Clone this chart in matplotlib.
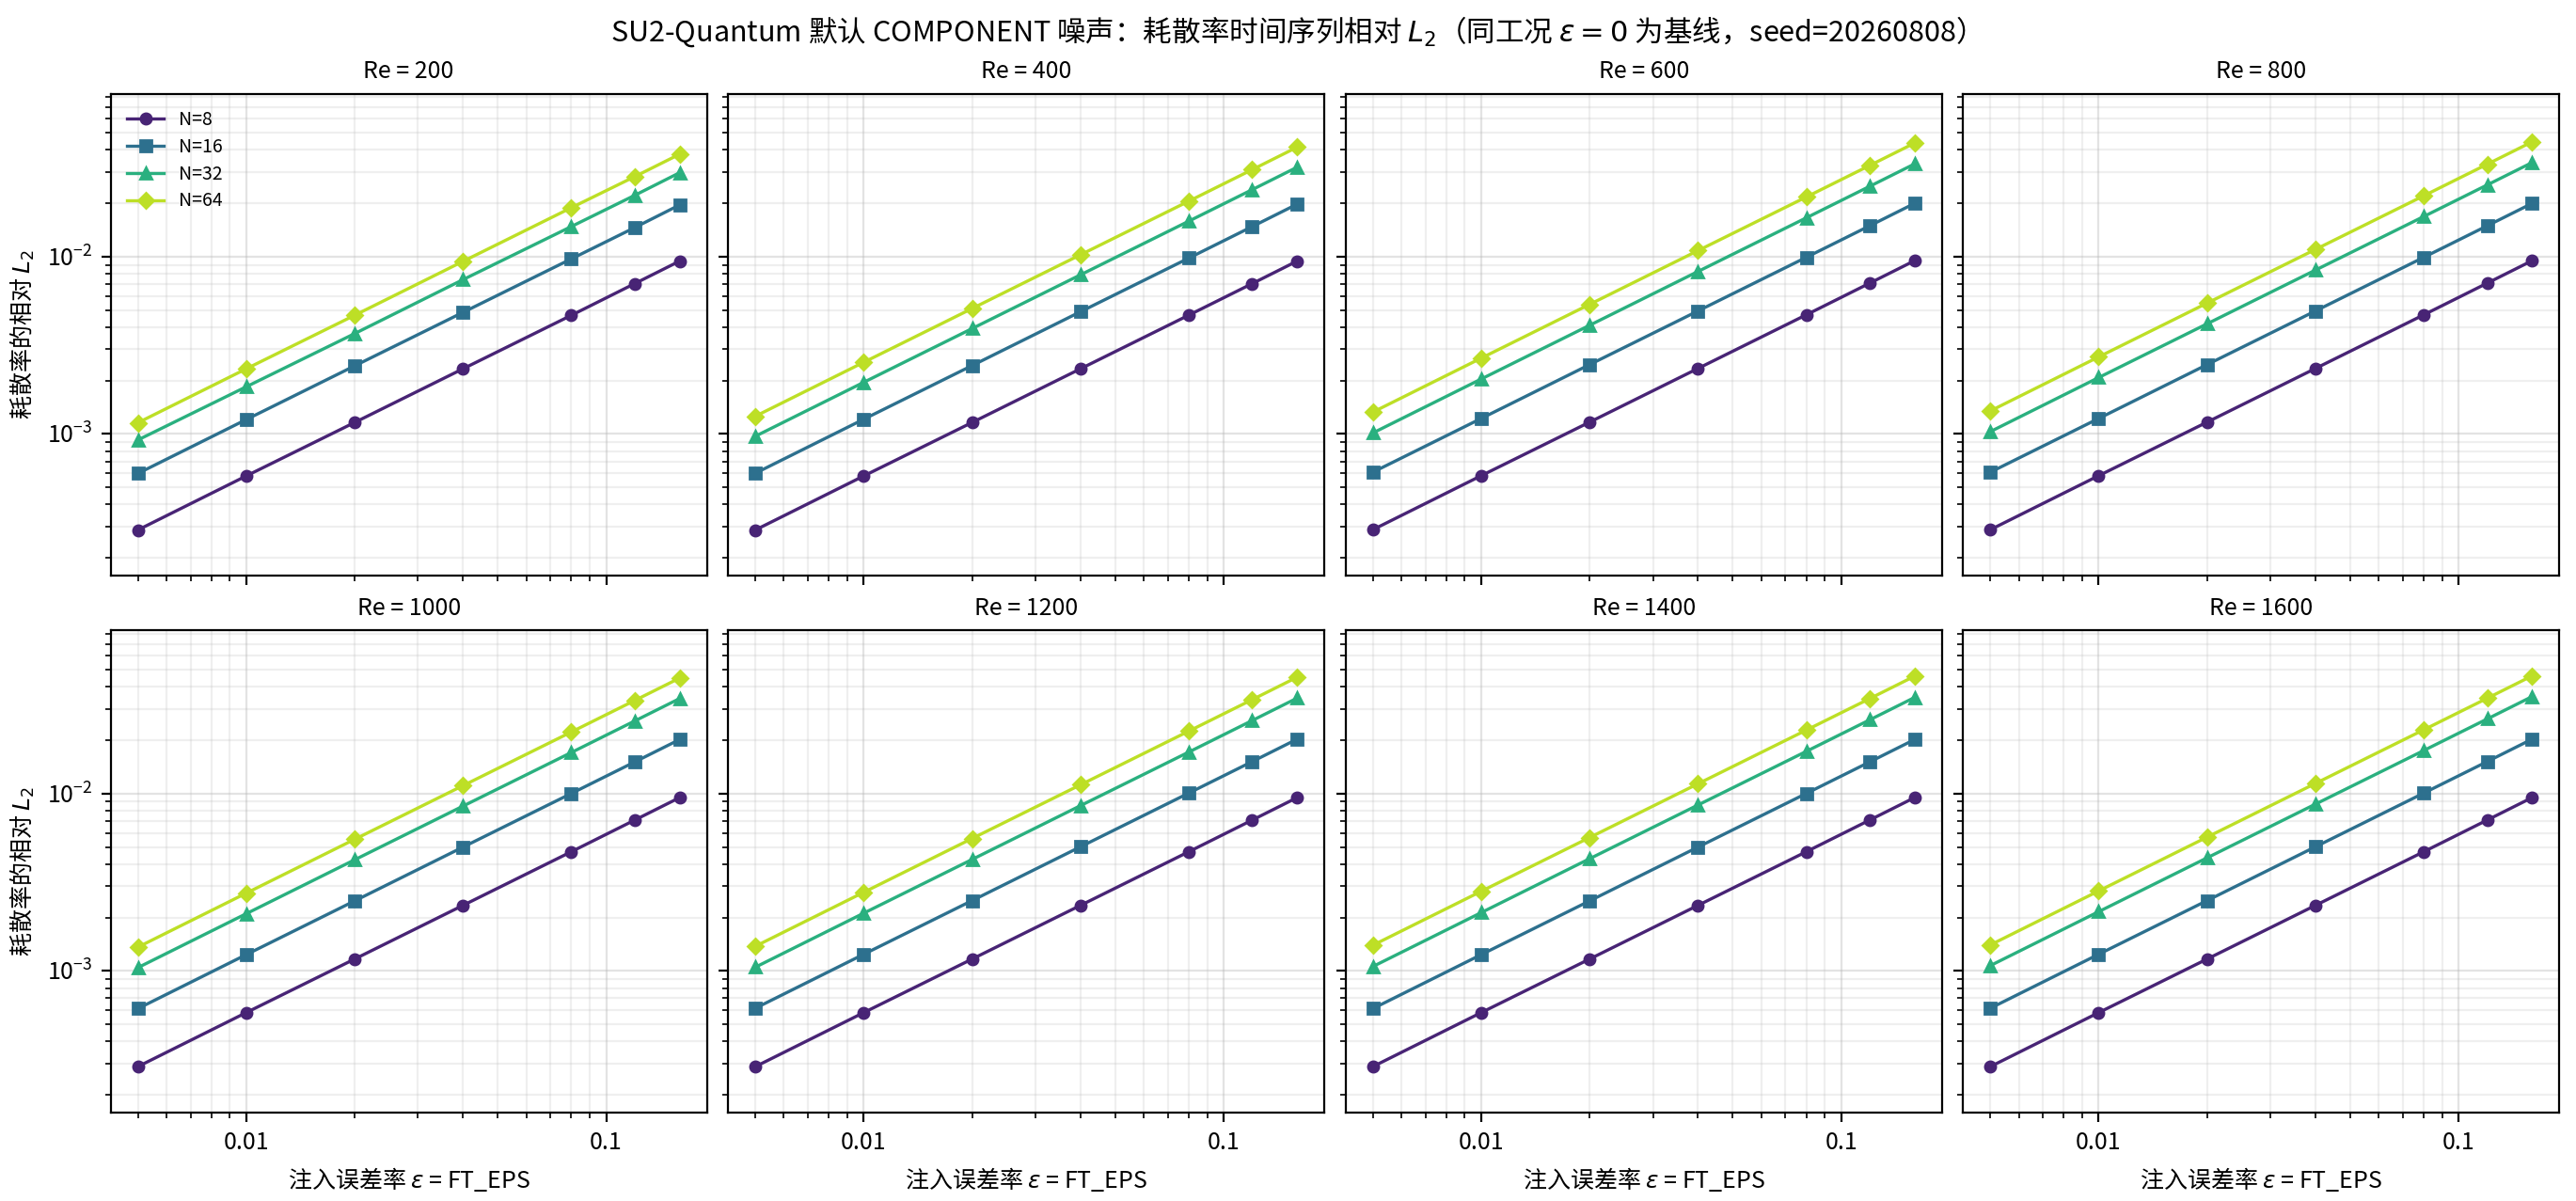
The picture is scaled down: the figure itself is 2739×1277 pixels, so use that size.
import numpy as np
import matplotlib
matplotlib.use("Agg")
from matplotlib import pyplot as plt
from matplotlib.ticker import FuncFormatter, NullFormatter

plt.rcParams['font.family'] = ['Noto Sans CJK SC', 'DejaVu Sans']
plt.rcParams['axes.unicode_minus'] = False

# injected error rates
eps = [0.005, 0.01, 0.02, 0.04, 0.08, 0.12, 0.16]
re_list = [200, 400, 600, 800, 1000, 1200, 1400, 1600]
n_list = [8, 16, 32, 64]

# relative L2 of dissipation-rate series (per Re, per N)
l2_n8 = {
    200:  [2.87e-4, 5.79e-4, 1.16e-3, 2.33e-3, 4.67e-3, 7.05e-3, 9.45e-3],
    400:  [2.87e-4, 5.79e-4, 1.16e-3, 2.33e-3, 4.68e-3, 7.05e-3, 9.45e-3],
    600:  [2.88e-4, 5.81e-4, 1.165e-3, 2.34e-3, 4.70e-3, 7.09e-3, 9.50e-3],
    800:  [2.88e-4, 5.81e-4, 1.165e-3, 2.34e-3, 4.70e-3, 7.09e-3, 9.50e-3],
    1000: [2.88e-4, 5.81e-4, 1.165e-3, 2.34e-3, 4.70e-3, 7.09e-3, 9.50e-3],
    1200: [2.88e-4, 5.81e-4, 1.165e-3, 2.34e-3, 4.70e-3, 7.09e-3, 9.50e-3],
    1400: [2.88e-4, 5.81e-4, 1.165e-3, 2.34e-3, 4.70e-3, 7.09e-3, 9.50e-3],
    1600: [2.88e-4, 5.81e-4, 1.165e-3, 2.34e-3, 4.70e-3, 7.09e-3, 9.50e-3],
}
l2_n16 = {
    200:  [5.98e-4, 1.205e-3, 2.42e-3, 4.85e-3, 9.72e-3, 1.46e-2, 1.96e-2],
    400:  [6.00e-4, 1.21e-3, 2.43e-3, 4.89e-3, 9.82e-3, 1.479e-2, 1.98e-2],
    600:  [6.08e-4, 1.222e-3, 2.46e-3, 4.94e-3, 9.92e-3, 1.494e-2, 2.00e-2],
    800:  [6.08e-4, 1.222e-3, 2.46e-3, 4.94e-3, 9.92e-3, 1.494e-2, 2.00e-2],
    1000: [6.12e-4, 1.234e-3, 2.48e-3, 4.99e-3, 1.002e-2, 1.509e-2, 2.02e-2],
    1200: [6.15e-4, 1.24e-3, 2.49e-3, 5.01e-3, 1.007e-2, 1.516e-2, 2.03e-2],
    1400: [6.12e-4, 1.234e-3, 2.48e-3, 4.99e-3, 1.002e-2, 1.509e-2, 2.02e-2],
    1600: [6.15e-4, 1.24e-3, 2.49e-3, 5.01e-3, 1.007e-2, 1.516e-2, 2.03e-2],
}
l2_n32 = {
    200:  [9.24e-4, 1.845e-3, 3.68e-3, 7.42e-3, 1.48e-2, 2.22e-2, 2.98e-2],
    400:  [9.70e-4, 1.955e-3, 3.93e-3, 7.90e-3, 1.587e-2, 2.39e-2, 3.20e-2],
    600:  [1.012e-3, 2.04e-3, 4.10e-3, 8.25e-3, 1.657e-2, 2.495e-2, 3.34e-2],
    800:  [1.030e-3, 2.08e-3, 4.18e-3, 8.40e-3, 1.686e-2, 2.54e-2, 3.40e-2],
    1000: [1.042e-3, 2.10e-3, 4.23e-3, 8.50e-3, 1.706e-2, 2.57e-2, 3.44e-2],
    1200: [1.048e-3, 2.115e-3, 4.25e-3, 8.55e-3, 1.716e-2, 2.585e-2, 3.46e-2],
    1400: [1.057e-3, 2.13e-3, 4.29e-3, 8.62e-3, 1.731e-2, 2.607e-2, 3.49e-2],
    1600: [1.070e-3, 2.157e-3, 4.34e-3, 8.72e-3, 1.751e-2, 2.637e-2, 3.53e-2],
}
l2_n64 = {
    200:  [1.156e-3, 2.33e-3, 4.67e-3, 9.41e-3, 1.89e-2, 2.83e-2, 3.79e-2],
    400:  [1.258e-3, 2.536e-3, 5.10e-3, 1.025e-2, 2.058e-2, 3.10e-2, 4.15e-2],
    600:  [1.327e-3, 2.676e-3, 5.38e-3, 1.082e-2, 2.172e-2, 3.272e-2, 4.38e-2],
    800:  [1.348e-3, 2.72e-3, 5.47e-3, 1.099e-2, 2.207e-2, 3.324e-2, 4.45e-2],
    1000: [1.360e-3, 2.743e-3, 5.52e-3, 1.109e-2, 2.227e-2, 3.354e-2, 4.49e-2],
    1200: [1.376e-3, 2.774e-3, 5.58e-3, 1.121e-2, 2.252e-2, 3.391e-2, 4.54e-2],
    1400: [1.394e-3, 2.81e-3, 5.65e-3, 1.136e-2, 2.282e-2, 3.436e-2, 4.60e-2],
    1600: [1.400e-3, 2.823e-3, 5.68e-3, 1.141e-2, 2.292e-2, 3.451e-2, 4.62e-2],
}
series = {8: l2_n8, 16: l2_n16, 32: l2_n32, 64: l2_n64}
markers = {8: 'o', 16: 's', 32: '^', 64: 'D'}
colors = plt.cm.viridis(np.linspace(0.1, 0.9, 4))

fig, axes = plt.subplots(2, 4, figsize=(2739 / 200, 1277 / 200), dpi=200,
                         sharex=True, sharey=True)
fig.subplots_adjust(left=0.043, right=0.9935, top=0.922, bottom=0.074,
                    wspace=0.036, hspace=0.115)

all_vals = [v for d in series.values() for r in d.values() for v in r]
ymin, ymax = min(all_vals) / 1.8, max(all_vals) * 1.8

for k, (ax, re) in enumerate(zip(axes.flat, re_list)):
    for c, n in zip(colors, n_list):
        ax.plot(eps, series[n][re], marker=markers[n], ms=4, lw=1.2,
                color=c, label=f"N={n}")
    ax.set_xscale('log')
    ax.set_yscale('log')
    ax.set_ylim(ymin, ymax)
    ax.grid(True, which='major', alpha=0.35)
    ax.grid(True, which='minor', alpha=0.2)
    ax.set_title(f"Re = {re}", fontsize=9)
    ax.xaxis.set_major_formatter(FuncFormatter(lambda v, p: f"{v:g}"))
    ax.xaxis.set_minor_formatter(NullFormatter())
    ax.tick_params(labelsize=9)
    if k % 4 == 0:
        ax.set_ylabel("耗散率的相对 $L_2$", fontsize=9)
    if k >= 4:
        ax.set_xlabel("注入误差率 $\\varepsilon$ = FT_EPS", fontsize=9)

axes[0, 0].legend(loc='upper left', fontsize=7, frameon=False,
                  labelspacing=0.4)

fig.suptitle("SU2-Quantum 默认 COMPONENT 噪声：耗散率时间序列相对 $L_2$"
             "（同工况 $\\varepsilon=0$ 为基线，seed=20260808）",
             fontsize=11, y=0.988)

fig.savefig("out.png", dpi=200)
